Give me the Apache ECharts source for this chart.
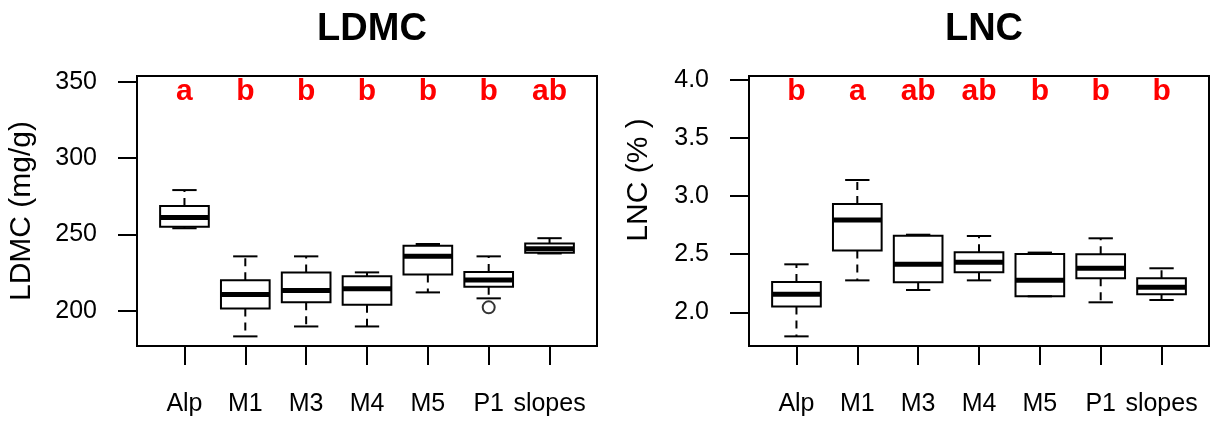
<!DOCTYPE html>
<html>
<head>
<meta charset="utf-8">
<script src="https://cdn.jsdelivr.net/npm/echarts@6/dist/echarts.min.js"></script>
<style>
html,body{margin:0;padding:0;background:#fff;}
#chart{width:1215px;height:427px;}
</style>
</head>
<body>
<div id="chart"></div>
<script>
// ---- data ----
const categories = ['Alp', 'M1', 'M3', 'M4', 'M5', 'P1', 'slopes'];
const categoryPositions = [1, 2, 3, 4, 5, 6, 7];
// [min, Q1, median, Q3, max]
const ldmcStats = [
  [254.0, 255.0, 261.0, 268.5, 279.0],
  [183.2, 201.5, 210.7, 219.9, 235.6],
  [189.7, 205.5, 213.3, 225.1, 235.6],
  [189.7, 203.9, 214.4, 222.5, 225.1],
  [212.0, 223.8, 235.6, 242.6, 243.7],
  [208.1, 215.7, 220.1, 225.3, 235.6],
  [237.5, 238.0, 240.5, 244.0, 247.5]
];
const ldmcOutliers = [[6, 202.2]];
const lncStats = [
  [1.793, 2.049, 2.155, 2.261, 2.413],
  [2.275, 2.531, 2.795, 2.933, 3.139],
  [2.192, 2.258, 2.413, 2.660, 2.668],
  [2.275, 2.344, 2.430, 2.517, 2.657],
  [2.138, 2.138, 2.275, 2.502, 2.514],
  [2.086, 2.293, 2.379, 2.499, 2.637],
  [2.106, 2.155, 2.215, 2.293, 2.379]
];
const lncOutliers = [];
const ldmcLetters = ['a', 'b', 'b', 'b', 'b', 'b', 'ab'];
const lncLetters = ['b', 'a', 'ab', 'ab', 'b', 'b', 'b'];
const ldmcTicks = [200, 250, 300, 350];
const lncTicks = [2.0, 2.5, 3.0, 3.5, 4.0];
const ldmcLetterY = 343.5;
const lncLetterY = 3.895;

// ---- styling ----
const FONT = "'Liberation Sans', Arial, Helvetica, sans-serif";

function boxRender(params, api) {
  const x = api.value(0);
  const mn = api.value(1), q1 = api.value(2), md = api.value(3), q3 = api.value(4), mx = api.value(5);
  const w = api.size([0.8, 0])[0];
  const px = api.coord([x, md])[0];
  const yMin = api.coord([x, mn])[1];
  const yQ1 = api.coord([x, q1])[1];
  const yMd = api.coord([x, md])[1];
  const yQ3 = api.coord([x, q3])[1];
  const yMax = api.coord([x, mx])[1];
  const stroke = '#000';
  const children = [];
  if (yMin - yQ1 > 0.5) {
    children.push({type: 'line', shape: {x1: px, y1: yQ1, x2: px, y2: yMin},
      style: {stroke, lineWidth: 2, lineDash: [8, 6]}});
  }
  if (yQ3 - yMax > 0.5) {
    children.push({type: 'line', shape: {x1: px, y1: yQ3, x2: px, y2: yMax},
      style: {stroke, lineWidth: 2, lineDash: [8, 6]}});
  }
  children.push({type: 'line', shape: {x1: px - w / 4, y1: yMin, x2: px + w / 4, y2: yMin},
    style: {stroke, lineWidth: 2}});
  children.push({type: 'line', shape: {x1: px - w / 4, y1: yMax, x2: px + w / 4, y2: yMax},
    style: {stroke, lineWidth: 2}});
  children.push({type: 'rect', shape: {x: px - w / 2, y: yQ3, width: w, height: yQ1 - yQ3},
    style: {fill: 'none', stroke, lineWidth: 2}});
  children.push({type: 'line', shape: {x1: px - w / 2, y1: yMd, x2: px + w / 2, y2: yMd},
    style: {stroke, lineWidth: 5}});
  return {type: 'group', children};
}

function letterRender(params, api) {
  const p = api.coord([api.value(0), api.value(1)]);
  return {type: 'text', x: p[0], y: p[1],
    style: {text: params.context.letters[params.dataIndex], fill: '#ff0000',
      fontSize: 30, fontWeight: 'bold', fontFamily: FONT, align: 'center', verticalAlign: 'middle'}};
}

function makeLetterRender(letters) {
  return function (params, api) {
    const p = api.coord([api.value(0), api.value(1)]);
    return {type: 'text', x: p[0], y: p[1],
      style: {text: letters[params.dataIndex], fill: '#ff0000',
        fontSize: 30, fontWeight: 'bold', fontFamily: FONT, align: 'center', verticalAlign: 'middle'}};
  };
}

function xAxisDef(gridIndex) {
  return {
    type: 'value', gridIndex, min: 0.22, max: 7.78,
    axisLine: {show: false},
    splitLine: {show: false},
    axisTick: {show: true, length: 19, customValues: categoryPositions, lineStyle: {color: '#000', width: 2}},
    axisLabel: {show: true, customValues: categoryPositions, margin: 46, color: '#000',
      fontSize: 25, fontFamily: FONT, formatter: v => categories[Math.round(v) - 1]}
  };
}

function yAxisDef(gridIndex, min, max, ticks, name, nameGap, pad, fmt) {
  return {
    type: 'value', gridIndex, min, max,
    name, nameLocation: 'middle', nameGap,
    nameTextStyle: {fontSize: 30, fontFamily: FONT, color: '#000', padding: pad},
    axisLine: {show: false},
    splitLine: {show: false},
    axisTick: {show: true, length: 19, customValues: ticks, lineStyle: {color: '#000', width: 2}},
    axisLabel: {show: true, customValues: ticks, margin: 40, color: '#000',
      fontSize: 25, fontFamily: FONT, formatter: fmt}
  };
}

const chart = echarts.init(document.getElementById('chart'), null, {renderer: 'canvas'});
chart.setOption({
  backgroundColor: '#fff',
  animation: false,
  title: [
    {text: 'LDMC', left: 367, top: 6, textAlign: 'center',
      textStyle: {fontSize: 38, fontWeight: 'bold', fontFamily: FONT, color: '#000'}},
    {text: 'LNC', left: 979, top: 6, textAlign: 'center',
      textStyle: {fontSize: 38, fontWeight: 'bold', fontFamily: FONT, color: '#000'}}
  ],
  grid: [
    {left: 137, right: 618, top: 76, bottom: 81, show: true, borderColor: '#000', borderWidth: 2, backgroundColor: 'transparent'},
    {left: 749, right: 6, top: 76, bottom: 81, show: true, borderColor: '#000', borderWidth: 2, backgroundColor: 'transparent'}
  ],
  xAxis: [xAxisDef(0), xAxisDef(1)],
  yAxis: [
    yAxisDef(0, 176.9, 353.7, ldmcTicks, 'LDMC (mg/g)', 100, [0, 0, 0, 0], v => String(v)),
    yAxisDef(1, 1.71, 4.034, lncTicks, 'LNC (% )', 95, [0, 0, 0, 62], v => v.toFixed(1))
  ],
  series: [
    {type: 'custom', xAxisIndex: 0, yAxisIndex: 0, renderItem: boxRender,
      data: ldmcStats.map((s, i) => [categoryPositions[i]].concat(s)), z: 2},
    {type: 'scatter', xAxisIndex: 0, yAxisIndex: 0, symbol: 'circle', symbolSize: 12,
      itemStyle: {color: '#fff', borderColor: '#000', borderWidth: 2},
      data: ldmcOutliers, z: 3},
    {type: 'custom', xAxisIndex: 0, yAxisIndex: 0, renderItem: makeLetterRender(ldmcLetters),
      data: categoryPositions.map(p => [p, ldmcLetterY]), z: 4},
    {type: 'custom', xAxisIndex: 1, yAxisIndex: 1, renderItem: boxRender,
      data: lncStats.map((s, i) => [categoryPositions[i]].concat(s)), z: 2},
    {type: 'scatter', xAxisIndex: 1, yAxisIndex: 1, symbol: 'circle', symbolSize: 12,
      itemStyle: {color: '#fff', borderColor: '#000', borderWidth: 2},
      data: lncOutliers, z: 3},
    {type: 'custom', xAxisIndex: 1, yAxisIndex: 1, renderItem: makeLetterRender(lncLetters),
      data: categoryPositions.map(p => [p, lncLetterY]), z: 4}
  ]
});
</script>
</body>
</html>
